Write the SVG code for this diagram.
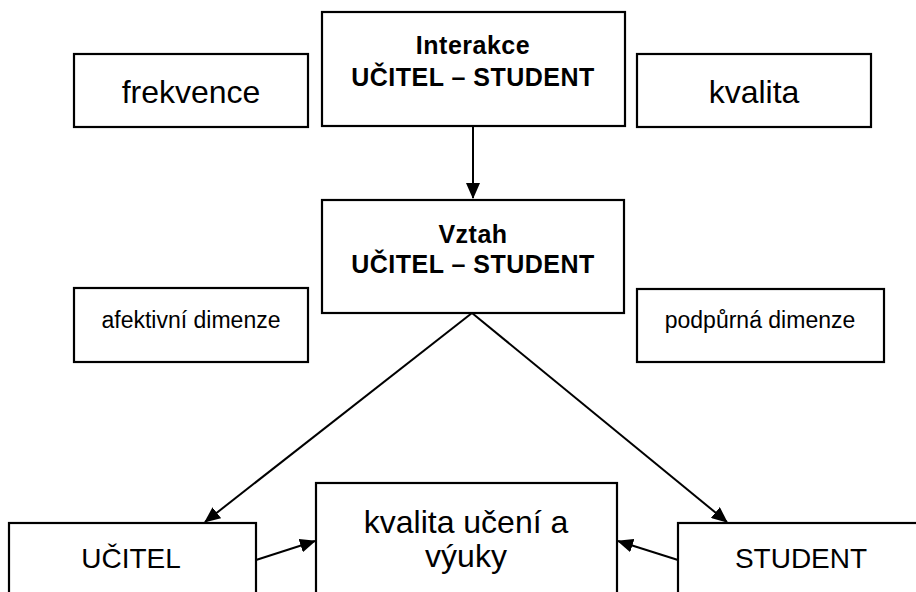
<svg xmlns="http://www.w3.org/2000/svg" width="916" height="592" viewBox="0 0 916 592">
<style>
.box{fill:#fff;stroke:#000;stroke-width:2.2}
.t{font-family:"Liberation Sans",Arial,sans-serif;fill:#000;text-anchor:middle}
.b{font-weight:bold;font-size:25px;letter-spacing:0.5px}
.l{font-size:32px}
.m{font-size:28px}
.s{font-size:23px}
.c{stroke:#000;stroke-width:2;fill:none}
</style>
<defs>
<marker id="ah" markerUnits="userSpaceOnUse" markerWidth="16" markerHeight="14" refX="15" refY="7" orient="auto">
<path d="M0,0 L16,7 L0,14 Z" fill="#000"/>
</marker>
</defs>
<rect width="916" height="592" fill="#fff"/>
<g id="interakce"><rect class="box" x="322" y="12" width="303" height="114"/>
<text class="t b" x="473" y="54">Interakce</text>
<text class="t b" x="473" y="86">UČITEL – STUDENT</text></g>
<g id="frekvence"><rect class="box" x="74" y="54" width="234" height="73"/>
<text class="t l" x="191" y="103">frekvence</text></g>
<g id="kvalita"><rect class="box" x="637" y="54" width="234" height="73"/>
<text class="t l" x="754" y="103">kvalita</text></g>
<g id="vztah"><rect class="box" x="322" y="200" width="302" height="113"/>
<text class="t b" x="473" y="243">Vztah</text>
<text class="t b" x="473" y="273">UČITEL – STUDENT</text></g>
<g id="afektivni"><rect class="box" x="74" y="288" width="234" height="74"/>
<text class="t s" x="191" y="328">afektivní dimenze</text></g>
<g id="podpurna"><rect class="box" x="637" y="289" width="247" height="73"/>
<text class="t s" x="760" y="328">podpůrná dimenze</text></g>
<g id="ucitel"><rect class="box" x="9" y="523" width="247" height="80"/>
<text class="t m" x="131" y="568">UČITEL</text></g>
<g id="kvalita-uceni"><rect class="box" x="316" y="483" width="301" height="120"/>
<text class="t l" x="466" y="533">kvalita učení a</text>
<text class="t l" x="466" y="567">výuky</text></g>
<g id="student"><rect class="box" x="678" y="523" width="245" height="80"/>
<text class="t m" x="801" y="568">STUDENT</text></g>
<g id="connectors">
<line class="c" x1="473" y1="126" x2="473" y2="198" marker-end="url(#ah)"/>
<line class="c" x1="472" y1="313" x2="205" y2="522" marker-end="url(#ah)"/>
<line class="c" x1="472" y1="313" x2="727" y2="522" marker-end="url(#ah)"/>
<line class="c" x1="256" y1="560" x2="315" y2="541" marker-end="url(#ah)"/>
<line class="c" x1="678" y1="560" x2="618" y2="541" marker-end="url(#ah)"/>
</g>
</svg>
